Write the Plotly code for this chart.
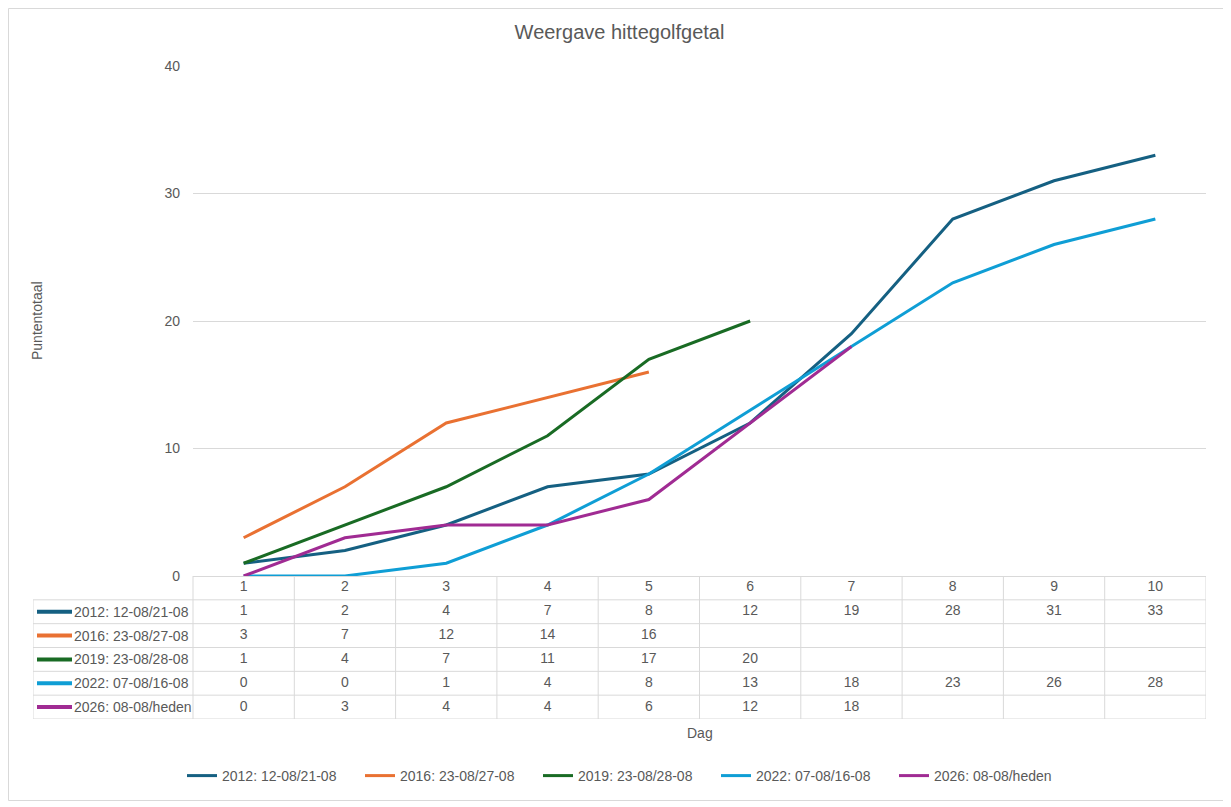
import plotly.graph_objects as go

# data
dagen = [1, 2, 3, 4, 5, 6, 7, 8, 9, 10]
namen = ["2012: 12-08/21-08", "2016: 23-08/27-08", "2019: 23-08/28-08",
         "2022: 07-08/16-08", "2026: 08-08/heden"]
s2012 = [1, 2, 4, 7, 8, 12, 19, 28, 31, 33]
s2016 = [3, 7, 12, 14, 16]
s2019 = [1, 4, 7, 11, 17, 20]
s2022 = [0, 0, 1, 4, 8, 13, 18, 23, 26, 28]
s2026 = [0, 3, 4, 4, 6, 12, 18]
reeksen = [s2012, s2016, s2019, s2022, s2026]
kleuren = ["#156082", "#E97132", "#196B24", "#0F9ED5", "#A02B93"]

# the page puts the figure 8px in from the top-left corner
off = 8
W, H = 1231 - off, 807 - off
ml = 33 - off
mr = W - (1206 - off)
mt = 66 - off
mb = H - (719 - off)
pw, ph = W - ml - mr, H - mt - mb
plot_left = 193 - off
plot_bottom = 576 - off
main_x0 = (plot_left - ml) / pw
main_y0 = (H - mb - plot_bottom) / ph
unit = (W - mr - plot_left) / len(dagen)      # px per day
tab_left = 0.5 - (plot_left - ml) / unit      # left edge of table in x2 units
nrows = len(namen) + 1


def px_x(p):
    return (p - off - ml) / pw


def px_y(p):
    return (H - mb - (p - off)) / ph


grijs = "#595959"
lijn = "#d9d9d9"
font = "Liberation Sans"
fs = 14

fig = go.Figure()

for naam, vals, kl in zip(namen, reeksen, kleuren):
    fig.add_trace(go.Scatter(
        x=dagen[:len(vals)], y=vals, name=naam, mode="lines",
        line=dict(color=kl, width=3), xaxis="x", yaxis="y"))

# table: header row with day numbers
fig.add_trace(go.Scatter(
    x=dagen, y=[0.5] * len(dagen), text=[str(d) for d in dagen], mode="text",
    textfont=dict(color=grijs, size=fs, family=font), showlegend=False,
    hoverinfo="skip", xaxis="x2", yaxis="y2"))

shapes = []
annotations = []
for i, (naam, vals, kl) in enumerate(zip(namen, reeksen, kleuren)):
    rij = i + 1.5
    fig.add_trace(go.Scatter(
        x=dagen[:len(vals)], y=[rij] * len(vals), text=[str(v) for v in vals],
        mode="text", textfont=dict(color=grijs, size=fs, family=font),
        showlegend=False, hoverinfo="skip", xaxis="x2", yaxis="y2"))
    # legend key in the table
    k0 = tab_left + 4 / unit
    k1 = tab_left + 39 / unit
    shapes.append(dict(type="line", xref="x2", yref="y2", x0=k0, x1=k1,
                       y0=rij, y1=rij, line=dict(color=kl, width=4)))
    annotations.append(dict(xref="x2", yref="y2", x=k1, y=rij,
                            text=naam, showarrow=False, xanchor="left",
                            font=dict(color=grijs, size=fs, family=font)))

# table grid
for r in range(1, nrows + 1):
    shapes.append(dict(type="line", xref="x2", yref="y2", x0=tab_left,
                       x1=10.5, y0=r, y1=r, line=dict(color=lijn, width=1)))
shapes.append(dict(type="line", xref="x2", yref="y2", x0=0.5, x1=10.5,
                   y0=0, y1=0, line=dict(color=lijn, width=1)))
for c in range(len(dagen) + 1):
    shapes.append(dict(type="line", xref="x2", yref="y2", x0=c + 0.5,
                       x1=c + 0.5, y0=0, y1=nrows, line=dict(color=lijn, width=1)))
shapes.append(dict(type="line", xref="x2", yref="y2", x0=tab_left,
                   x1=tab_left, y0=1, y1=nrows, line=dict(color=lijn, width=1)))

# chart border
shapes.append(dict(type="rect", xref="paper", yref="paper",
                   x0=px_x(off + 0.5), x1=px_x(1224),
                   y0=px_y(800.5), y1=px_y(off + 0.5),
                   line=dict(color=lijn, width=1)))

annotations.append(dict(xref="paper", yref="paper", x=px_x(37),
                        y=(main_y0 + 1) / 2, text="Puntentotaal", textangle=-90,
                        showarrow=False, xanchor="center", yanchor="middle",
                        font=dict(color=grijs, size=fs, family=font)))
annotations.append(dict(xref="paper", yref="paper",
                        x=(main_x0 + 1) / 2, y=px_y(733), text="Dag",
                        showarrow=False, xanchor="center", yanchor="middle",
                        font=dict(color=grijs, size=fs, family=font)))

fig.update_layout(
    width=W, height=H,
    margin=dict(l=ml, r=mr, t=mt, b=mb),
    paper_bgcolor="white", plot_bgcolor="white",
    font=dict(family=font, color=grijs, size=fs),
    title=dict(text="Weergave hittegolfgetal", x=0.5, xref="container",
               xanchor="center", y=1 - (32 - off) / H, yref="container",
               yanchor="middle", font=dict(size=20, color=grijs, family=font)),
    xaxis=dict(domain=[main_x0, 1], range=[0.5, 10.5], showticklabels=False,
               showgrid=False, zeroline=False, showline=True, linecolor=lijn,
               anchor="y", fixedrange=True),
    yaxis=dict(domain=[main_y0, 1], range=[0, 40], dtick=10, showgrid=True,
               gridcolor=lijn, zeroline=False, showline=False, anchor="x",
               ticklabelstandoff=12, tickfont=dict(size=fs, color=grijs)),
    xaxis2=dict(domain=[0, 1], range=[tab_left, 10.5], visible=False,
                anchor="y2"),
    yaxis2=dict(domain=[0, main_y0], range=[nrows, 0], visible=False,
                anchor="x2"),
    shapes=shapes,
    annotations=annotations,
    showlegend=True,
    legend=dict(orientation="h", x=px_x(182), xanchor="left",
                y=px_y(776), yanchor="middle",
                entrywidth=133, entrywidthmode="pixels",
                font=dict(size=fs, color=grijs, family=font)),
)

fig.write_html("out.html")
